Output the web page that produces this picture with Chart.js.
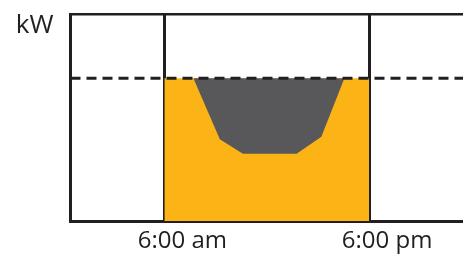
<!DOCTYPE html>
<html>
<head>
<meta charset="utf-8">
<script src="https://cdn.jsdelivr.net/npm/chart.js@4.4.0/dist/chart.umd.min.js"></script>
<style>
  html, body { margin: 0; padding: 0; background: #fff; }
  #wrap { width: 463px; height: 254px; }
</style>
</head>
<body>
<div id="wrap"><canvas id="loadChart"></canvas></div>
<script>
// ── Data (hours of day, % of kW scale) ─────────────────────────
const xTickValues = [6, 18];
const xTickLabels = ['6:00 am', '6:00 pm'];
const yLabel = 'kW';
const yLabelAt = 94.5;
const limitLevel = 69;

const baseHours = [6, 18];
const baseLoad = [69, 69];

const cutHours = [7.7, 9.25, 10.6, 13.75, 15.2, 16.55];
const cutLoad = [69, 39.5, 32.5, 32.5, 40.7, 69];

const limitHours = [0.5, 23.5];

const dark = '#231F20';

const ctx = document.getElementById('loadChart');
new Chart(ctx, {
    type: 'line',
    data: {
        datasets: [
            {
                label: 'limit',
                data: limitHours.map(h => ({ x: h, y: limitLevel })),
                borderColor: dark, borderWidth: 3, borderDash: [10, 6],
                pointRadius: 0, fill: false
            },
            {
                label: 'reduced',
                data: cutHours.map((h, i) => ({ x: h, y: cutLoad[i] })),
                borderWidth: 0, backgroundColor: '#58585A',
                pointRadius: 0, tension: 0, fill: { value: limitLevel }
            },
            {
                label: 'load',
                data: baseHours.map((h, i) => ({ x: h, y: baseLoad[i] })),
                borderWidth: 0, backgroundColor: '#FCB316',
                pointRadius: 0, fill: 'origin'
            }
        ]
    },
    options: {
        responsive: true, maintainAspectRatio: false, animation: false,
        layout: { padding: { left: 0, right: 0, top: 0, bottom: 0 } },
        plugins: { legend: { display: false }, tooltip: { enabled: false } },
        scales: {
            x: {
                type: 'linear', min: 0.5, max: 23.5, z: 1,
                afterBuildTicks: s => { s.ticks = xTickValues.map(v => ({ value: v })); },
                afterFit: s => { s.height = 33; s.paddingLeft = 0; s.paddingRight = 0; },
                ticks: {
                    color: dark, padding: 6, labelOffset: 18, maxRotation: 0, autoSkip: false,
                    font: { family: 'Open Sans', size: 24 },
                    callback: (v) => xTickLabels[xTickValues.indexOf(v)]
                },
                grid: { color: dark, lineWidth: 3, drawTicks: false },
                border: { display: true, color: dark, width: 3 }
            },
            xTop: {
                type: 'linear', position: 'top', min: 0.5, max: 23.5,
                afterFit: s => { s.height = 14; },
                ticks: { display: false },
                grid: { display: false, drawTicks: false },
                border: { display: true, color: dark, width: 2.5 }
            },
            y: {
                min: 0, max: 100,
                afterBuildTicks: s => { s.ticks = [{ value: yLabelAt }]; },
                afterFit: s => { s.width = 70.5; s.paddingTop = 0; s.paddingBottom = 0; },
                ticks: {
                    color: dark, padding: 17, crossAlign: 'near',
                    font: { family: 'Open Sans', size: 26 },
                    callback: () => yLabel
                },
                grid: { display: false, drawTicks: false },
                border: { display: true, color: dark, width: 3 }
            }
        }
    }
});
</script>
</body>
</html>
